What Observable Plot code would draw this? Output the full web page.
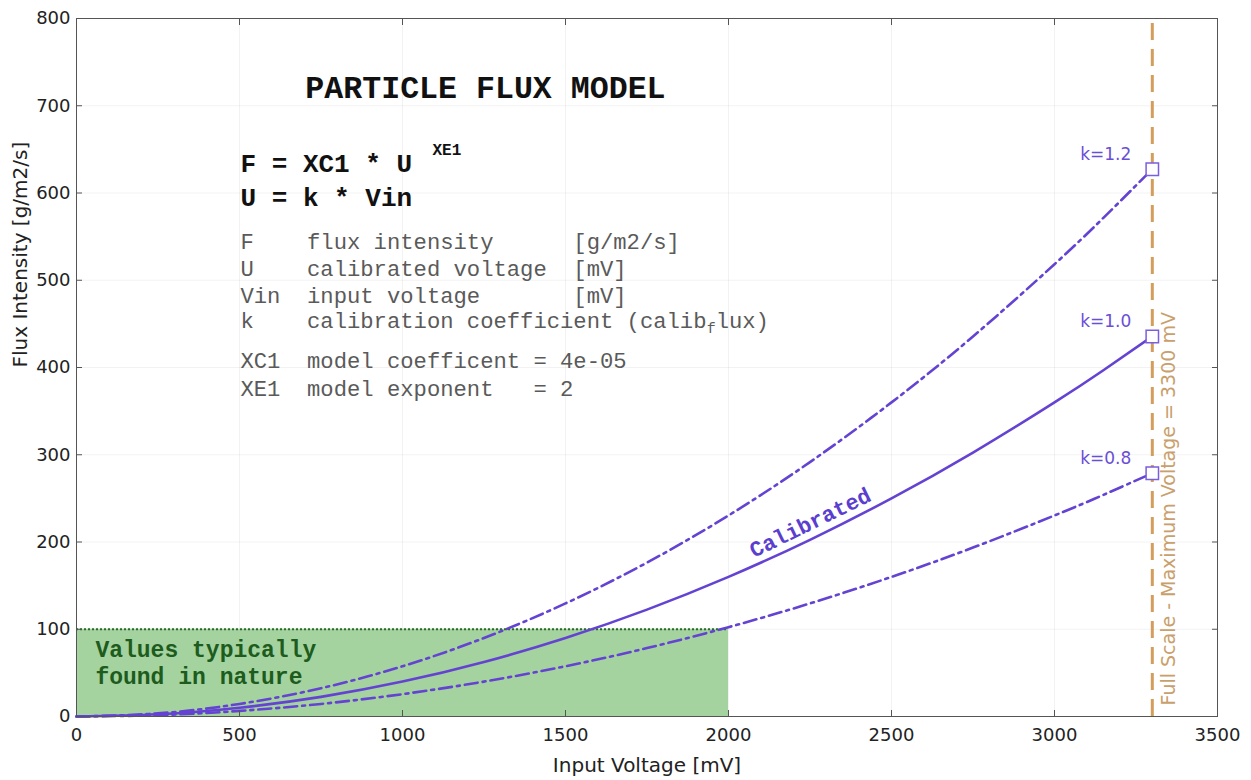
<!DOCTYPE html>
<html>
<head>
<meta charset="utf-8">
<script src="https://cdn.jsdelivr.net/npm/d3@7"></script>
<script src="https://cdn.jsdelivr.net/npm/@observablehq/plot@0.6"></script>
<style>
  html, body { margin: 0; padding: 0; background: #ffffff; }
</style>
</head>
<body>
<div id="chart"></div>
<script>
// ---------- data ----------
const vin = [0, 250, 500, 750, 1000, 1250, 1500, 1750, 2000, 2250, 2500, 2750, 3000, 3150, 3300];
const fluxK12 = [0, 3.6, 14.4, 32.4, 57.6, 90, 129.6, 176.4, 230.4, 291.6, 360, 435.6, 518.4, 571.5, 627.3];
const fluxK10 = [0, 2.5, 10, 22.5, 40, 62.5, 90, 122.5, 160, 202.5, 250, 302.5, 360, 396.9, 435.6];
const fluxK08 = [0, 1.6, 6.4, 14.4, 25.6, 40, 57.6, 78.4, 102.4, 129.6, 160, 193.6, 230.4, 254, 278.8];
const seriesLabels = ["k=1.2", "k=1.0", "k=0.8"];
const fullScaleVin = 3300;
const natureVin = [0, 2000];
const natureFlux = [0, 100];
const xTicks = [0, 500, 1000, 1500, 2000, 2500, 3000, 3500];
const yTicks = [0, 100, 200, 300, 400, 500, 600, 700, 800];

const titleText = "PARTICLE FLUX MODEL";
const equationLines = ["F = XC1 * U", "U = k * Vin"];
const exponentText = "XE1";
const legendLines = [
  "F    flux intensity      [g/m2/s]",
  "U    calibrated voltage  [mV]",
  "Vin  input voltage       [mV]",
  "k    calibration coefficient (calib",
  "XC1  model coefficent = 4e-05",
  "XE1  model exponent   = 2"
];
const subscriptText = "f";
const afterSubscriptText = "lux)";
const natureText = "Values typically\nfound in nature";
const calibratedText = "Calibrated";
const fullScaleText = "Full Scale - Maximum Voltage = 3300 mV";
const xLabel = "Input Voltage [mV]";
const yLabel = "Flux Intensity [g/m2/s]";

// ---------- build tables ----------
const fluxSeries = [fluxK12, fluxK10, fluxK08];
const rows = seriesLabels.flatMap((k, i) => vin.map((v, j) => ({k, vin: v, flux: fluxSeries[i][j]})));
const endPoints = seriesLabels.map((k, i) => ({k, vin: vin[vin.length - 1], flux: fluxSeries[i][fluxSeries[i].length - 1]}));

const purple = "#6443d2";
const mono = "'Liberation Mono', 'Courier New', monospace";
const sans = "'DejaVu Sans', Helvetica, Arial, sans-serif";
const nb = s => s.replace(/ /g, "\u00a0");

const legendSize = 22.2;
const legendChar = legendSize * 0.6;
const legendY = [544, 513, 482, 453, 408, 376];

const chart = Plot.plot({
  width: 1251,
  height: 780,
  marginLeft: 76,
  marginRight: 34,
  marginTop: 18,
  marginBottom: 64,
  style: {background: "#ffffff", fontFamily: sans, color: "#222"},
  x: {domain: [0, 3500]},
  y: {domain: [0, 800]},
  marks: [
    Plot.gridX(xTicks, {stroke: "#000", strokeOpacity: 0.05}),
    Plot.gridY(yTicks, {stroke: "#000", strokeOpacity: 0.05}),
    Plot.rect([0], {x1: natureVin[0], x2: natureVin[1], y1: natureFlux[0], y2: natureFlux[1], fill: "#a4d3a0"}),
    Plot.ruleY([natureFlux[1]], {x1: natureVin[0], x2: natureVin[1], stroke: "#2c6a2c", strokeWidth: 2, strokeDasharray: "2,2"}),
    Plot.text([natureText], {x: 58, y: 62.5, text: d => d, textAnchor: "start", lineAnchor: "middle", lineHeight: 1.15,
      fontFamily: mono, fontWeight: "bold", fontSize: 23, fill: "#1d5c1d"}),
    Plot.ruleX([fullScaleVin], {y1: 0, y2: 800, stroke: "#d39d5b", strokeWidth: 3, strokeDasharray: "17,9"}),
    Plot.text([fullScaleText], {x: fullScaleVin, y: 12.6, text: d => d, rotate: -90, textAnchor: "start", dx: 17,
      fontSize: 19, fill: "#c9a06c", fontFamily: sans}),
    Plot.line(rows.filter(d => d.k === seriesLabels[0]), {x: "vin", y: "flux", stroke: purple, strokeWidth: 2.6, strokeDasharray: "13,5,3,5", curve: "natural"}),
    Plot.line(rows.filter(d => d.k === seriesLabels[1]), {x: "vin", y: "flux", stroke: purple, strokeWidth: 2.6, curve: "natural"}),
    Plot.line(rows.filter(d => d.k === seriesLabels[2]), {x: "vin", y: "flux", stroke: purple, strokeWidth: 2.6, strokeDasharray: "13,5,3,5", curve: "natural"}),
    Plot.dot(endPoints, {x: "vin", y: "flux", symbol: "square", r: 7, fill: "white", stroke: "#7a5ee0", strokeWidth: 1.5}),
    Plot.text(endPoints, {x: "vin", y: "flux", text: "k", textAnchor: "end", dx: -21, dy: -15, fontSize: 17, fill: "#6a4fd6", fontFamily: sans}),
    Plot.text([calibratedText], {x: 2251, y: 222, text: d => d, rotate: -26, fontFamily: mono, fontWeight: "bold", fontSize: 22, fill: "#5a3ecf"}),
    // annotations
    Plot.text([titleText], {x: 702, y: 720, text: d => d, textAnchor: "start", fontFamily: mono, fontWeight: "bold", fontSize: 31.6, fill: "#111"}),
    Plot.text([equationLines[0]], {x: 503, y: 634, text: d => nb(d), textAnchor: "start", fontFamily: mono, fontWeight: "bold", fontSize: 26, fill: "#111"}),
    Plot.text([equationLines[1]], {x: 503, y: 595, text: d => nb(d), textAnchor: "start", fontFamily: mono, fontWeight: "bold", fontSize: 26, fill: "#111"}),
    Plot.text([exponentText], {x: 503, y: 634, dx: 192, dy: -13, text: d => d, textAnchor: "start", fontFamily: mono, fontWeight: "bold", fontSize: 16, fill: "#111"}),
    ...legendLines.map((line, i) => Plot.text([line], {x: 503, y: legendY[i], text: d => nb(d), textAnchor: "start",
      fontFamily: mono, fontSize: legendSize, fill: "#5a5a5a"})),
    Plot.text([subscriptText], {x: 503, y: legendY[3], dx: 35 * legendChar, dy: 7, text: d => d, textAnchor: "start", fontFamily: mono, fontSize: 15, fill: "#5a5a5a"}),
    Plot.text([afterSubscriptText], {x: 503, y: legendY[3], dx: 35 * legendChar + 9, text: d => d, textAnchor: "start", fontFamily: mono, fontSize: legendSize, fill: "#5a5a5a"}),
    // frame & axes
    Plot.frame({stroke: "#555"}),
    Plot.axisX({anchor: "bottom", ticks: xTicks, tickSize: -6, tickPadding: 18, tickFormat: d => String(d), label: null, fontSize: 18, stroke: "#555", fill: "#222"}),
    Plot.axisX({anchor: "top", ticks: xTicks, tickSize: -6, tickFormat: () => "", label: null, stroke: "#555"}),
    Plot.axisY({anchor: "left", ticks: yTicks, tickSize: -6, tickPadding: 12, tickFormat: d => String(d), label: null, fontSize: 18, stroke: "#555", fill: "#222"}),
    Plot.axisY({anchor: "right", ticks: yTicks, tickSize: -6, tickFormat: () => "", label: null, stroke: "#555"}),
    Plot.text([xLabel], {frameAnchor: "bottom", lineAnchor: "top", dy: 41, text: d => d, fontSize: 20, fill: "#222", fontFamily: sans}),
    Plot.text([yLabel], {frameAnchor: "left", rotate: -90, dx: -56, text: d => d, fontSize: 20, fill: "#222", fontFamily: sans})
  ]
});
document.getElementById("chart").appendChild(chart);
</script>
</body>
</html>
